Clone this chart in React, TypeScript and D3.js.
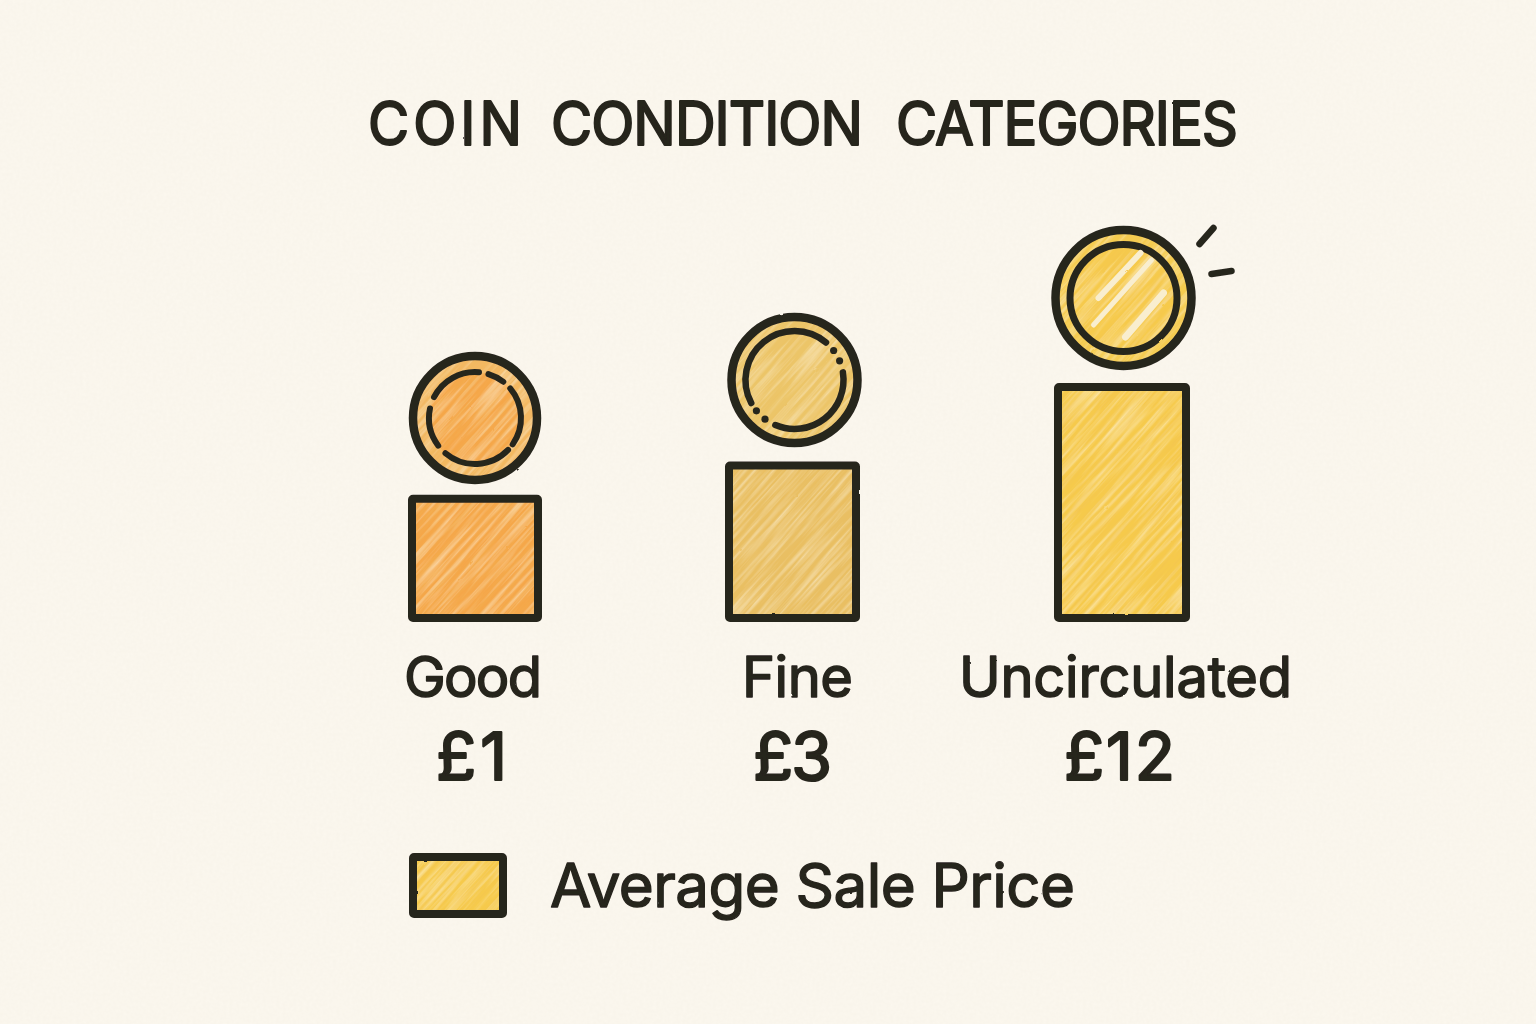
import React from "react";
import * as d3 from "d3";

const categories = ["Good", "Fine", "Uncirculated"];
const priceLabels = ["£1", "£3", "£12"];
const prices = [1, 3, 12];
const fills = ["#f5a74a", "#e9bf63", "#f6ca4c"];
const rimFills = ["#f3b862", "#ecc568", "#f5cc50"];
const legendLabel = "Average Sale Price";
const titleWords = ["COIN", "CONDITION", "CATEGORIES"];

const W = 1536;
const H = 1024;
const ink = "#28251f";
const fontFamily = "Inter, 'Noto Sans', sans-serif";

// bar heights follow a square-root scale with a floor
const barBase = 622;
const y = d3.scaleSqrt().domain([0, 12]).range([540, 383]);
const x = d3.scaleOrdinal<string, number>().domain(categories).range([475, 792.5, 1122]);

const arc = d3.arc();
const deg = (d: number) => (d * Math.PI) / 180;

function ringArc(r: number, a0: number, a1: number) {
  return arc({ innerRadius: r, outerRadius: r, startAngle: deg(a0), endAngle: deg(a1) }) as string;
}

const goodDashes = [[-63, 5], [17, 38], [50, 125], [134, 220], [233, 282]];
const fineDashes = [[-118, 40], [81, 203]];
const fineDots = [53, 67, 217, 231];
const glints = [
  [-25, 0, 17, -45, 6],
  [-30, 27, 28, -38, 5],
  [2, 39, 40, -5, 7],
];
const sparks = [
  [76, -54, 90, -70],
  [88, -24, 108, -27],
];
const titleSqueeze = 0.94;
const titleExtents = [[368, 154], [551, 312], [896, 342]];
const labelExtents = [[404, 138], [742, 111], [959, 333]];
const priceExtents = [[436, 71], [753, 79], [1064, 111]];

function Hatch({ id, color }: { id: string; color: string }) {
  return (
    <pattern id={id} width="320" height="320" patternUnits="userSpaceOnUse" patternTransform="rotate(-48)">
      <rect width="320" height="320" fill={color} />
      <rect width="320" height="320" filter="url(#pencilLight)" />
      <rect width="320" height="320" filter="url(#pencilDark)" />
    </pattern>
  );
}

export default function App() {
  return (
    <svg
      width={W}
      height={H}
      viewBox={`0 0 ${W} ${H}`}
      style={{ position: "absolute", left: 0, top: 0, display: "block" }}
    >
      <defs>
        <filter id="pencilLight" x="0" y="0" width="100%" height="100%">
          <feTurbulence type="fractalNoise" baseFrequency="0.012 0.28" numOctaves="3" seed="11" stitchTiles="stitch" />
          <feColorMatrix values="0 0 0 0 1  0 0 0 0 0.95  0 0 0 0 0.82  1.1 0 0 0 -0.44" />
        </filter>
        <filter id="pencilDark" x="0" y="0" width="100%" height="100%">
          <feTurbulence type="fractalNoise" baseFrequency="0.02 0.4" numOctaves="2" seed="3" stitchTiles="stitch" />
          <feColorMatrix values="0 0 0 0 0.85  0 0 0 0 0.5  0 0 0 0 0.1  0.6 0 0 0 -0.26" />
        </filter>
        {fills.map((c, i) => (
          <Hatch key={c} id={`hatch${i}`} color={c} />
        ))}
        {rimFills.map((c, i) => (
          <Hatch key={c} id={`hatchRim${i}`} color={c} />
        ))}
        <filter id="paper" x="0" y="0" width="100%" height="100%">
          <feTurbulence type="fractalNoise" baseFrequency="0.3" numOctaves="3" seed="4" />
          <feColorMatrix values="0 0 0 0 0.55  0 0 0 0 0.5  0 0 0 0 0.4  0 0 0 0.07 -0.012" />
        </filter>
        <filter id="rough" x="-5%" y="-5%" width="110%" height="110%">
          <feTurbulence type="fractalNoise" baseFrequency="0.09" numOctaves="2" seed="7" result="n" />
          <feDisplacementMap in="SourceGraphic" in2="n" scale="1.5" />
        </filter>
      </defs>

      <rect width={W} height={H} fill="#fbf7ee" />
      <rect width={W} height={H} filter="url(#paper)" />

      <g filter="url(#rough)" strokeLinejoin="round">
        {titleWords.map((w, i) => (
          <text
            key={w}
            transform={`translate(${titleExtents[i][0]},145) scale(${titleSqueeze},1)`}
            fontFamily={fontFamily}
            fontSize={60}
            fill={ink}
            stroke={ink}
            strokeWidth={2}
            textLength={titleExtents[i][1] / titleSqueeze}
            lengthAdjust="spacing"
          >
            {w}
          </text>
        ))}

        {categories.map((c, i) => {
          const cx = x(c);
          const top = y(prices[i]);
          const halfW = [67, 67.5, 68][i];
          return (
            <g key={c}>
              <rect
                x={cx - halfW + 4}
                y={top + 4}
                width={halfW * 2 - 8}
                height={barBase - top - 8}
                rx={1}
                fill={`url(#hatch${i})`}
                stroke={ink}
                strokeWidth={8}
              />
              <text
                x={labelExtents[i][0]}
                y={697}
                fontFamily={fontFamily}
                fontSize={56}
                fill={ink}
                stroke={ink}
                strokeWidth={1.5}
                textLength={labelExtents[i][1]}
                lengthAdjust="spacing"
              >
                {c}
              </text>
              <text
                x={priceExtents[i][0]}
                y={780}
                fontFamily={fontFamily}
                fontSize={66}
                fill={ink}
                stroke={ink}
                strokeWidth={2.2}
                textLength={priceExtents[i][1]}
                lengthAdjust="spacing"
              >
                {priceLabels[i]}
              </text>
            </g>
          );
        })}

        {/* Good coin */}
        <g transform={`translate(475,418)`}>
          <circle r={62} fill="url(#hatchRim0)" stroke={ink} strokeWidth={8.5} />
          <circle r={46} fill="url(#hatch0)" />
          {goodDashes.map(([a, b]) => (
            <path key={a} d={ringArc(46, a, b)} fill="none" stroke={ink} strokeWidth={6} strokeLinecap="round" />
          ))}
        </g>

        {/* Fine coin */}
        <g transform={`translate(794.5,380)`}>
          <circle r={63} fill="url(#hatchRim1)" stroke={ink} strokeWidth={8.5} />
          {fineDashes.map(([a, b]) => (
            <path key={a} d={ringArc(49, a, b)} fill="none" stroke={ink} strokeWidth={6.5} strokeLinecap="round" />
          ))}
          {fineDots.map((a) => (
            <circle key={a} cx={49 * Math.sin(deg(a))} cy={-49 * Math.cos(deg(a))} r={3.6} fill={ink} />
          ))}
        </g>

        {/* Uncirculated coin */}
        <g transform={`translate(1123.5,298)`}>
          <circle r={68} fill="url(#hatchRim2)" stroke={ink} strokeWidth={8.5} />
          <circle r={53.5} fill="url(#hatch2)" stroke={ink} strokeWidth={7} />
          {glints.map(([x1, y1, x2, y2, w]) => (
            <line key={x1} x1={x1} y1={y1} x2={x2} y2={y2} stroke="#f9eecf" strokeWidth={w} strokeLinecap="round" />
          ))}
          {sparks.map(([x1, y1, x2, y2]) => (
            <line key={x1} x1={x1} y1={y1} x2={x2} y2={y2} stroke={ink} strokeWidth={6.5} strokeLinecap="round" />
          ))}
        </g>

        {/* legend */}
        <rect x={413} y={857} width={90} height={57} rx={1} fill="url(#hatch2)" stroke={ink} strokeWidth={8} />
        <text
          x={550}
          y={907}
          fontFamily={fontFamily}
          fontSize={60}
          fill={ink}
          stroke={ink}
          strokeWidth={1.4}
          textLength={525}
          lengthAdjust="spacing"
        >
          {legendLabel}
        </text>
      </g>
    </svg>
  );
}
